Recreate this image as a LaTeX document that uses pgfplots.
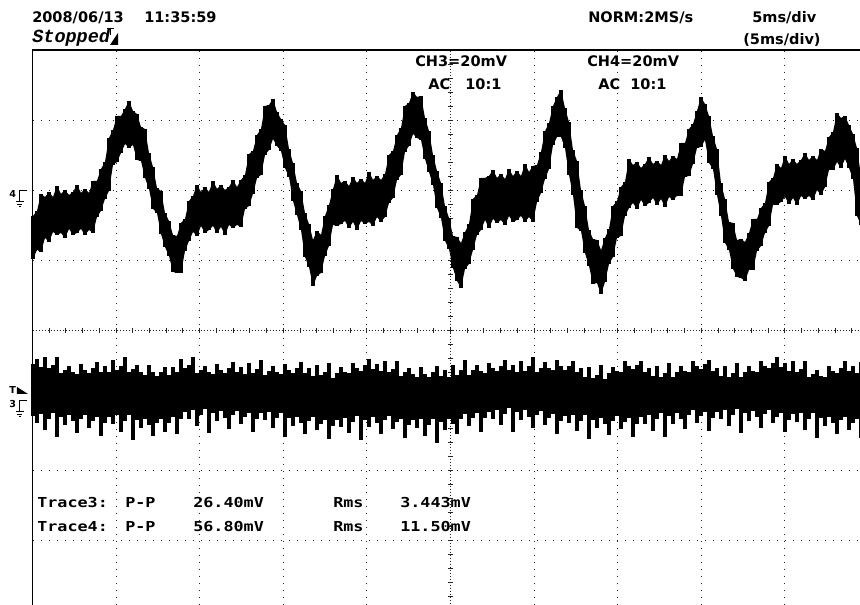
\documentclass[border=0pt]{standalone}
\usepackage{fontspec}
\usepackage{pgfplots}
\pgfplotsset{compat=1.18}
\usepackage{pgfplotstable}
\usepgfplotslibrary{fillbetween}
\newfontfamily\hdr{DejaVu Sans}
\newfontfamily\mono{DejaVu Sans Mono}[FakeStretch=1.22]
\newfontfamily\stp{Liberation Mono}

% x in screen columns, t4/b4 = upper/lower edge of trace 4, t3/b3 = of trace 3 (screen rows)
\pgfplotstableread{
x t4 b4 t3 b3
33 216 259 364 416
37 211 250 359 423
41 194 252 367 414
45 197 238 357 430
49 192 242 368 419
53 197 232 365 413
57 186 235 357 437
61 194 233 373 417
65 190 238 370 425
69 195 229 366 415
73 192 235 372 421
77 185 233 374 433
81 193 229 364 419
85 189 235 370 415
89 193 230 373 428
93 181 233 368 421
97 181 217 362 417
101 169 211 372 436
105 162 199 366 423
109 138 191 372 417
113 130 165 360 424
117 116 162 370 415
121 116 153 366 432
125 109 144 357 421
129 101 148 372 415
133 111 145 369 440
137 114 160 365 420
141 127 161 372 428
145 129 178 375 419
149 153 189 365 425
153 167 209 372 436
157 188 213 376 423
161 191 234 372 419
165 213 247 367 432
169 221 256 375 423
173 235 272 367 417
177 236 273 372 434
181 223 273 359 419
185 219 251 368 412
189 201 241 365 419
193 196 232 357 410
197 185 236 373 426
201 192 226 370 415
205 187 233 366 409
209 192 230 372 433
213 181 226 374 413
217 189 233 364 421
221 185 227 370 411
225 190 235 373 418
229 187 225 368 429
233 180 228 362 415
237 187 225 372 411
241 180 227 367 424
245 175 209 374 417
249 154 206 363 413
253 151 194 373 432
257 135 178 369 419
261 129 175 360 413
265 106 155 375 420
269 105 150 371 412
273 99 139 366 428
277 112 146 372 418
281 119 151 374 413
285 125 168 364 437
289 149 177 370 418
293 163 201 373 426
297 183 215 368 417
301 191 230 362 423
305 213 257 373 434
309 224 267 368 421
313 240 286 376 417
317 231 276 365 430
321 235 273 375 424
325 216 256 372 420
329 205 246 363 439
333 189 225 378 426
337 175 226 373 420
341 183 224 367 427
345 181 221 372 418
349 186 228 373 433
353 177 222 363 422
357 183 230 368 416
361 179 221 371 440
365 183 224 365 420
369 172 222 359 427
373 180 226 369 417
377 176 217 364 423
381 180 222 371 434
385 174 217 361 420
389 155 203 372 416
393 151 198 369 429
397 135 180 361 422
401 128 175 376 419
405 106 152 372 438
409 103 146 368 425
413 92 134 374 420
417 97 138 377 428
421 96 140 367 419
425 118 159 374 436
429 131 172 377 425
433 155 185 372 419
437 171 208 366 443
441 183 218 376 422
445 206 241 370 430
449 218 249 377 419
453 236 268 365 424
457 237 281 375 434
461 243 288 370 419
465 232 269 360 414
469 224 264 375 426
473 199 250 370 418
477 195 235 365 413
481 178 230 371 432
485 178 220 373 418
489 176 228 363 412
493 170 219 368 419
497 178 223 371 410
501 174 220 366 425
505 179 225 360 414
509 169 216 370 408
513 176 222 365 432
517 171 220 372 412
521 176 216 361 420
525 164 222 371 410
529 172 217 366 417
533 166 222 357 428
537 165 202 372 415
541 152 193 368 411
545 131 179 362 425
549 123 169 368 418
553 106 145 370 414
557 97 137 360 434
561 90 137 366 421
565 108 148 370 416
569 122 175 366 423
573 150 195 361 415
577 161 228 372 431
581 190 231 368 421
585 206 253 377 415
589 230 266 367 439
593 239 284 378 420
597 240 283 375 428
601 250 294 365 418
605 238 282 379 424
609 229 264 373 435
613 206 257 367 421
617 201 238 371 416
621 187 236 372 429
625 182 216 361 422
629 159 208 366 418
633 165 203 369 437
637 162 209 365 424
641 168 200 361 417
645 164 206 372 424
649 157 203 368 415
653 164 198 376 431
657 161 205 366 419
661 165 199 377 413
665 155 207 373 437
669 161 197 363 416
673 156 200 377 424
677 159 196 372 413
681 143 196 366 419
685 143 177 371 429
689 129 176 372 415
693 124 164 361 410
697 111 148 366 423
701 97 147 369 416
705 104 140 364 412
709 116 163 360 431
713 136 169 371 418
717 149 195 368 412
721 183 216 376 419
725 199 243 366 410
729 222 250 377 426
733 223 269 373 415
737 240 277 363 409
741 239 278 377 433
745 242 281 372 413
749 233 270 366 421
753 219 270 371 411
757 219 251 372 417
761 208 246 361 428
765 203 233 366 414
769 182 226 368 410
773 178 205 363 423
777 164 205 357 417
781 168 202 367 413
785 156 197 363 432
789 164 204 371 420
793 159 198 361 414
797 164 205 372 422
801 160 196 369 413
805 153 199 361 430
809 160 196 377 419
813 156 200 374 413
817 160 190 370 438
821 149 195 376 418
825 151 187 377 426
829 137 170 366 417
833 132 170 371 423
837 113 162 373 434
841 118 168 368 420
845 116 159 361 417
849 125 168 371 430
853 134 179 366 423
857 148 216 373 419
861 176 225 362 438
}\scopedata

\begin{document}
\begin{tikzpicture}[
  hdrtxt/.style={anchor=base west, inner sep=0pt, font=\hdr\bfseries\fontsize{10.9}{12}\selectfont},
  montxt/.style={anchor=base west, inner sep=0pt, font=\mono\bfseries\fontsize{10.3}{12}\selectfont},
  mk/.style={anchor=base west, inner sep=0pt, font=\hdr\bfseries\fontsize{7.2}{8}\selectfont},
]
\begin{axis}[
  x=0.75pt, y=0.75pt, y dir=reverse,
  xmin=32.5, xmax=868.5, ymin=50.7, ymax=610.7,
  hide axis, clip=false,
]
\coordinate (BL) at (axis cs:0,605);
\coordinate (TR) at (axis cs:860,0);

% dotted graticule
\pgfplotsinvokeforeach{116.1,199.7,283.3,366.9,534.1,617.7,701.3,784.9}{
  \draw[black!85, line width=0.8pt, dash pattern=on 0.8pt off 4.45pt] (axis cs:#1,50.7) -- (axis cs:#1,612);
}
\pgfplotsinvokeforeach{120.7,190.7,260.7,400.7,470.7,540.7}{
  \draw[black!85, line width=0.8pt, dash pattern=on 0.8pt off 5.2pt] (axis cs:32.5,#1) -- (axis cs:868.5,#1);
}
% centre lines with minor ticks
\draw[black!85, line width=0.75pt, dash pattern=on 0.75pt off 1.5pt] (axis cs:32.5,330.7) -- (axis cs:868.5,330.7);
\draw[black!85, line width=0.75pt, dash pattern=on 0.75pt off 1.5pt] (axis cs:450.5,50.7) -- (axis cs:450.5,612);
\pgfplotsforeachungrouped \k in {1,...,49}{%
  \pgfmathsetmacro{\tx}{32.5+16.72*\k}%
  \edef\tmp{\noexpand\draw[black!85, line width=0.75pt] (axis cs:\tx,328.2) -- (axis cs:\tx,333.2);}%
  \tmp
}
\pgfplotsforeachungrouped \k in {1,...,39}{%
  \pgfmathsetmacro{\ty}{50.7+14*\k}%
  \edef\tmp{\noexpand\draw[black!85, line width=0.75pt] (axis cs:448,\ty) -- (axis cs:453,\ty);}%
  \tmp
}

% trace 4: band between its edges, plus every sampled column
\addplot[draw=none, name path=t4, forget plot] table[x=x, y=t4] {\scopedata};
\addplot[draw=none, name path=b4, forget plot] table[x=x, y=b4] {\scopedata};
\addplot[black, forget plot] fill between[of=t4 and b4];
\addplot[draw=none, mark=none, forget plot,
  error bars/.cd, y dir=both, y explicit, error mark=none,
  error bar style={line width=3.05pt, black}]
  table[x=x, y expr={(\thisrow{t4}+\thisrow{b4})/2}, y error expr={(\thisrow{b4}-\thisrow{t4})/2}] {\scopedata};
% trace 3: sampled columns
\addplot[draw=none, mark=none, forget plot,
  error bars/.cd, y dir=both, y explicit, error mark=none,
  error bar style={line width=3.05pt, black}]
  table[x=x, y expr={(\thisrow{t3}+\thisrow{b3})/2}, y error expr={(\thisrow{b3}-\thisrow{t3})/2}] {\scopedata};

% frame
\draw[line width=1.1pt] (axis cs:32.5,615) -- (axis cs:32.5,49.8) -- (axis cs:862,49.8);

% header texts
\node[hdrtxt] at (axis cs:32,23) {2008/06/13};
\node[hdrtxt] at (axis cs:144,23) {11:35:59};
\node[anchor=base west, inner sep=0pt, font=\stp\bfseries\itshape\fontsize{13.9}{15}\selectfont] at (axis cs:32,43) {Stopped};
\node[hdrtxt] at (axis cs:588,23) {NORM:2MS/s};
\node[hdrtxt] at (axis cs:752,23) {5ms/div};
\node[hdrtxt] at (axis cs:743,45) {(5ms/div)};
\node[hdrtxt] at (axis cs:415,67) {CH3=20mV};
\node[hdrtxt] at (axis cs:428,90) {AC};
\node[hdrtxt] at (axis cs:465,90) {10:1};
\node[hdrtxt] at (axis cs:587,67) {CH4=20mV};
\node[hdrtxt] at (axis cs:598,90) {AC};
\node[hdrtxt] at (axis cs:630,90) {10:1};

% trigger mark near Stopped
\draw[line width=0.75pt] (axis cs:107,29) -- (axis cs:114,29) (axis cs:110.5,29) -- (axis cs:110.5,35);
\fill (axis cs:118,33) -- (axis cs:118,45) -- (axis cs:110,45) -- cycle;

% channel markers
\node[mk] at (axis cs:9,198) {4};
\draw[line width=0.75pt] (axis cs:27,191) -- (axis cs:20,191) -- (axis cs:20,202);
\draw[line width=0.75pt] (axis cs:16,202) -- (axis cs:24,202) (axis cs:17.5,204.5) -- (axis cs:22.5,204.5) (axis cs:19,207) -- (axis cs:21,207);
\node[mk] at (axis cs:9,394) {T};
\fill (axis cs:17,387) -- (axis cs:17,394) -- (axis cs:28,394) -- cycle;
\node[mk] at (axis cs:9,408) {3};
\draw[line width=0.75pt] (axis cs:27,401) -- (axis cs:20,401) -- (axis cs:20,412);
\draw[line width=0.75pt] (axis cs:16,412) -- (axis cs:24,412) (axis cs:17.5,414.5) -- (axis cs:22.5,414.5) (axis cs:19,417) -- (axis cs:21,417);

% measurement texts
\node[montxt] at (axis cs:37,508) {Trace3:};
\node[montxt] at (axis cs:125,508) {P-P};
\node[montxt] at (axis cs:193,508) {26.40mV};
\node[montxt] at (axis cs:333,508) {Rms};
\node[montxt] at (axis cs:400,508) {3.443mV};
\node[montxt] at (axis cs:37,532) {Trace4:};
\node[montxt] at (axis cs:125,532) {P-P};
\node[montxt] at (axis cs:193,532) {56.80mV};
\node[montxt] at (axis cs:333,532) {Rms};
\node[montxt] at (axis cs:400,532) {11.50mV};
\end{axis}
\pgfresetboundingbox
\path[use as bounding box] (BL) rectangle (TR);
\end{tikzpicture}
\end{document}
